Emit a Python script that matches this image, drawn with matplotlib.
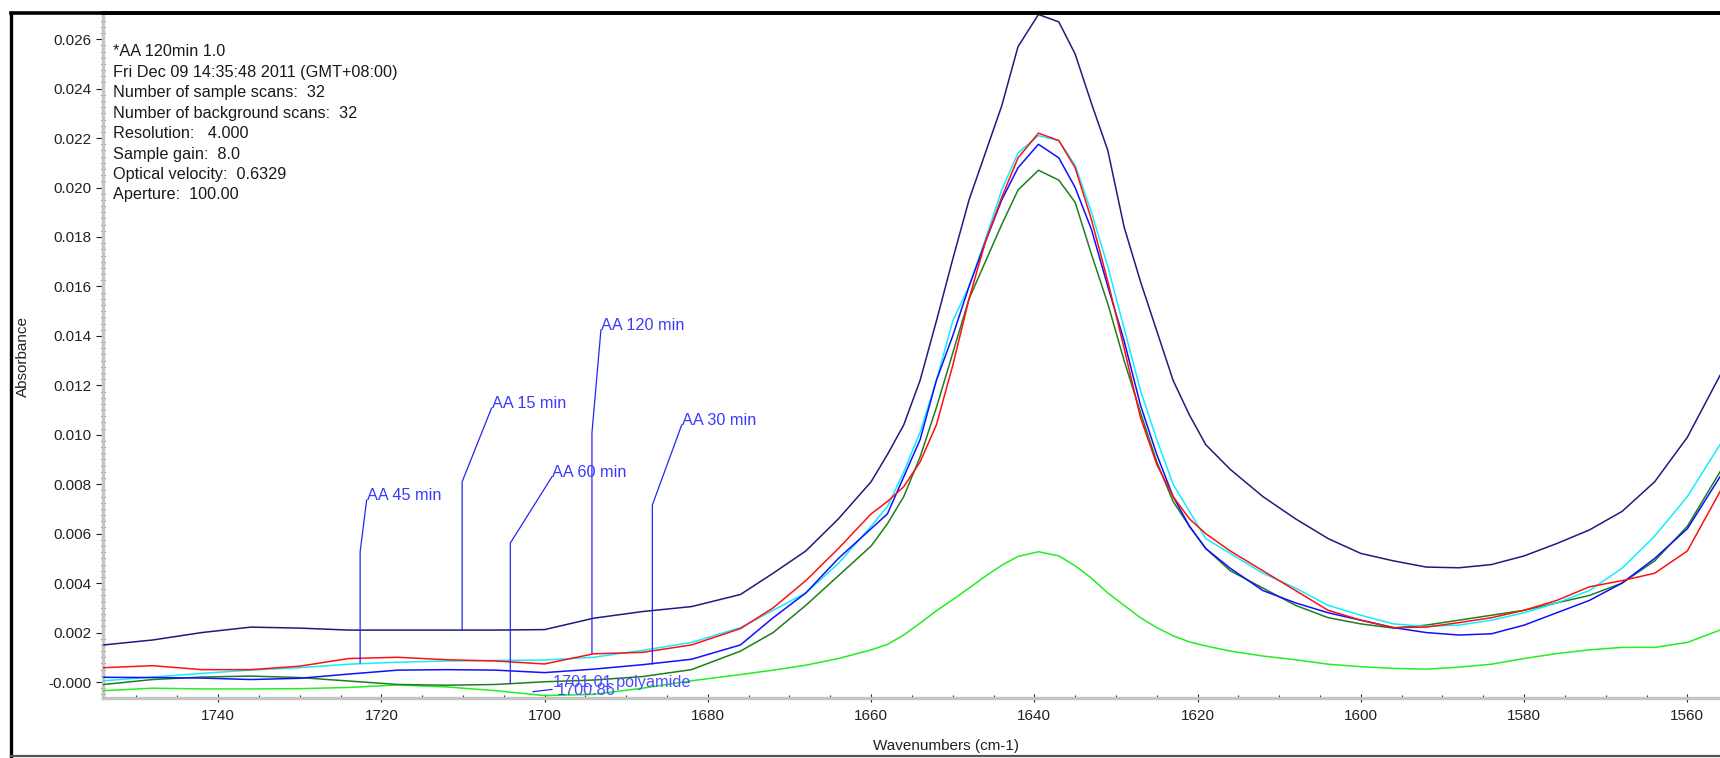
import numpy as np
import matplotlib
matplotlib.use("Agg")
import matplotlib.pyplot as plt
from matplotlib.ticker import MultipleLocator, FixedLocator
from matplotlib.lines import Line2D

plt.rcParams['font.family'] = ['Liberation Sans', 'DejaVu Sans']

# wavenumber grid (cm-1) shared by all spectra
wavenumber = [1754, 1748, 1742, 1736, 1730, 1724, 1718, 1712, 1706, 1700,
              1694, 1688, 1682, 1676, 1672, 1668, 1664, 1660, 1658, 1656,
              1654, 1652, 1650, 1648, 1646, 1644, 1642, 1639.5, 1637, 1635,
              1633, 1631, 1629, 1627, 1625, 1623, 1621, 1619, 1616, 1612,
              1608, 1604, 1600, 1596, 1592, 1588, 1584, 1580, 1576, 1572,
              1568, 1564, 1560, 1556]

aa_15 = [0.00150, 0.00170, 0.00200, 0.00222, 0.00218, 0.00210, 0.00210, 0.00210, 0.00210, 0.00212,
         0.00258, 0.00285, 0.00305, 0.00354, 0.00440, 0.00530, 0.00660, 0.00810, 0.00920, 0.01040,
         0.01220, 0.01460, 0.01710, 0.01950, 0.02140, 0.02330, 0.02570, 0.02700, 0.02670, 0.02540,
         0.02340, 0.02150, 0.01840, 0.01620, 0.01420, 0.01220, 0.01080, 0.00960, 0.00860, 0.00750,
         0.00660, 0.00580, 0.00520, 0.00490, 0.00465, 0.00462, 0.00475, 0.00510, 0.00560, 0.00615,
         0.00690, 0.00810, 0.00990, 0.01240]

aa_45 = [0.00005, 0.00020, 0.00035, 0.00048, 0.00058, 0.00072, 0.00080, 0.00085, 0.00087, 0.00089,
         0.00100, 0.00128, 0.00160, 0.00220, 0.00290, 0.00360, 0.00480, 0.00630, 0.00710, 0.00850,
         0.01010, 0.01220, 0.01460, 0.01600, 0.01790, 0.01990, 0.02140, 0.02210, 0.02190, 0.02090,
         0.01900, 0.01680, 0.01430, 0.01180, 0.00980, 0.00800, 0.00690, 0.00580, 0.00520, 0.00440,
         0.00380, 0.00310, 0.00270, 0.00235, 0.00225, 0.00230, 0.00250, 0.00280, 0.00320, 0.00370,
         0.00460, 0.00590, 0.00750, 0.00960]

aa_120 = [0.00058, 0.00066, 0.00050, 0.00050, 0.00064, 0.00095, 0.00100, 0.00090, 0.00085, 0.00073,
          0.00114, 0.00120, 0.00150, 0.00216, 0.00300, 0.00410, 0.00540, 0.00680, 0.00730, 0.00790,
          0.00890, 0.01040, 0.01280, 0.01550, 0.01780, 0.01960, 0.02120, 0.02220, 0.02190, 0.02080,
          0.01870, 0.01620, 0.01350, 0.01070, 0.00880, 0.00750, 0.00660, 0.00600, 0.00530, 0.00450,
          0.00370, 0.00290, 0.00250, 0.00220, 0.00222, 0.00240, 0.00260, 0.00290, 0.00330, 0.00385,
          0.00410, 0.00440, 0.00530, 0.00770]

aa_30 = [0.00019, 0.00018, 0.00016, 0.00010, 0.00015, 0.00032, 0.00048, 0.00050, 0.00048, 0.00038,
         0.00052, 0.00070, 0.00092, 0.00150, 0.00260, 0.00360, 0.00500, 0.00620, 0.00680, 0.00830,
         0.00980, 0.01220, 0.01400, 0.01600, 0.01780, 0.01950, 0.02080, 0.02175, 0.02120, 0.02000,
         0.01830, 0.01600, 0.01380, 0.01120, 0.00920, 0.00750, 0.00630, 0.00540, 0.00460, 0.00370,
         0.00320, 0.00280, 0.00250, 0.00220, 0.00200, 0.00190, 0.00195, 0.00230, 0.00280, 0.00330,
         0.00400, 0.00500, 0.00620, 0.00830]

aa_60 = [-0.00010, 0.00010, 0.00020, 0.00024, 0.00018, 0.00004, -0.00010, -0.00013, -0.00010, 0.00001,
         0.00008, 0.00022, 0.00050, 0.00125, 0.00200, 0.00310, 0.00430, 0.00550, 0.00640, 0.00750,
         0.00910, 0.01110, 0.01330, 0.01550, 0.01700, 0.01850, 0.01990, 0.02070, 0.02030, 0.01940,
         0.01730, 0.01530, 0.01300, 0.01090, 0.00890, 0.00730, 0.00630, 0.00540, 0.00450, 0.00380,
         0.00310, 0.00260, 0.00235, 0.00218, 0.00230, 0.00250, 0.00270, 0.00290, 0.00320, 0.00350,
         0.00400, 0.00490, 0.00630, 0.00850]

polyamide = [-0.00035, -0.00025, -0.00028, -0.00028, -0.00027, -0.00022, -0.00012, -0.00020, -0.00035, -0.00055,
             -0.00050, -0.00025, 0.00005, 0.00030, 0.00048, 0.00068, 0.00095, 0.00130, 0.00152, 0.00190,
             0.00238, 0.00288, 0.00333, 0.00380, 0.00428, 0.00472, 0.00508, 0.00527, 0.00510, 0.00470,
             0.00420, 0.00360, 0.00310, 0.00260, 0.00220, 0.00187, 0.00162, 0.00146, 0.00125, 0.00105,
             0.00090, 0.00072, 0.00062, 0.00055, 0.00052, 0.00060, 0.00072, 0.00095, 0.00115, 0.00130,
             0.00140, 0.00140, 0.00160, 0.00210]

spectra = [
    (aa_15, '#1c1c80'),
    (polyamide, '#22ee22'),
    (aa_60, '#1e7e1e'),
    (aa_45, '#10eeff'),
    (aa_30, '#1010ff'),
    (aa_120, '#ff1010'),
]

# peak labels: text, leader x, leader foot, knee, text anchor
ann_labels = ["AA 45 min", "AA 15 min", "AA 60 min", "AA 120 min", "AA 30 min"]
ann_x = [1722.6, 1710.1, 1704.2, 1694.2, 1686.8]
ann_foot = [0.00077, 0.0021, -0.00004, 0.00117, 0.00073]
ann_knee = [0.00526, 0.0081, 0.00562, 0.01007, 0.00716]
ann_tx = [1721.8, 1706.5, 1699.1, 1693.1, 1683.2]
ann_ty = [0.00736, 0.01108, 0.0083, 0.01424, 0.0104]

header = ["*AA 120min 1.0",
          "Fri Dec 09 14:35:48 2011 (GMT+08:00)",
          "Number of sample scans:  32",
          "Number of background scans:  32",
          "Resolution:   4.000",
          "Sample gain:  8.0",
          "Optical velocity:  0.6329",
          "Aperture:  100.00"]

y_ticks = [0.0, 0.002, 0.004, 0.006, 0.008, 0.010, 0.012, 0.014,
           0.016, 0.018, 0.020, 0.022, 0.024, 0.026]
y_ticklabels = ["-0.000", "0.002", "0.004", "0.006", "0.008", "0.010", "0.012",
                "0.014", "0.016", "0.018", "0.020", "0.022", "0.024", "0.026"]
x_ticks = [1740, 1720, 1700, 1680, 1660, 1640, 1620, 1600, 1580, 1560]

W, H = 1720, 758
fig = plt.figure(figsize=(W / 100, H / 100), dpi=100)
ax = fig.add_axes([103 / W, 1 - 698 / H, 1 - 103 / W, (698 - 13) / H])

for ys, col in spectra:
    ax.plot(wavenumber, ys, color=col, lw=1.1, zorder=3)

ann_col = '#2626f0'
for lab, x, y0, yk, tx, ty in zip(ann_labels, ann_x, ann_foot, ann_knee, ann_tx, ann_ty):
    ax.plot([x, x, tx], [y0, yk, ty], color=ann_col, lw=0.9, zorder=4)
    ax.text(tx, ty, lab, color='#3a3aff', fontsize=11.7, ha='left', va='baseline', zorder=5)

ax.plot([1701.4, 1699.1], [-0.00039, -0.0003], color=ann_col, lw=0.9, zorder=4, clip_on=False)
ax.text(1699.0, -0.00004, "1701.01 polyamide", color='#4a4aff', fontsize=11.7,
        ha='left', va='center', zorder=5, clip_on=False)
ax.text(1698.5, -0.00036, "1700.86", color='#4a4aff', fontsize=11.7,
        ha='left', va='center', zorder=5, clip_on=False)

ax.set_xlim(1754.1, 1556.0)
ax.set_ylim(-0.000647, 0.02706)

ax.yaxis.set_major_locator(FixedLocator(y_ticks))
ax.set_yticklabels(y_ticklabels)
ax.yaxis.set_minor_locator(MultipleLocator(0.00025))
ax.xaxis.set_major_locator(FixedLocator(x_ticks))
ax.set_xticklabels([str(t) for t in x_ticks])
ax.xaxis.set_minor_locator(MultipleLocator(5))

for side in ('left', 'bottom'):
    ax.spines[side].set_color('#c4c4c4')
    ax.spines[side].set_linewidth(2.4)
ax.spines['right'].set_visible(False)
ax.spines['top'].set_color('black')
ax.spines['top'].set_linewidth(2.6)

ax.tick_params(axis='y', which='major', direction='out', length=5, width=0.8,
               color='#222222', labelsize=11, labelcolor='#222222', pad=3)
ax.tick_params(axis='y', which='minor', direction='inout', length=3, width=0.8, color='#222222')
ax.tick_params(axis='x', which='major', direction='inout', length=6, width=0.8,
               color='#222222', labelsize=11, labelcolor='#222222', pad=5)
ax.tick_params(axis='x', which='minor', direction='in', length=2.5, width=0.8, color='#222222')

for i, line in enumerate(header):
    fig.text(113 / W, 1 - (52 + i * 20.4) / H, line, fontsize=11.7, color='#1a1a1a',
             ha='left', va='center')

fig.text(23 / W, 1 - 357 / H, "Absorbance", rotation=90, fontsize=11, color='#222222',
         ha='center', va='center')
fig.text(946 / W, 1 - 746 / H, "Wavenumbers (cm-1)", fontsize=11, color='#222222',
         ha='center', va='center')

# outer window frame
fig.add_artist(Line2D([11 / W, 11 / W], [1 - 13 / H, 1 - 756 / H], color='black', lw=2.4,
                      transform=fig.transFigure))
fig.add_artist(Line2D([11 / W, 1.0], [1 - 13 / H, 1 - 13 / H], color='black', lw=2.6,
                      transform=fig.transFigure))
fig.add_artist(Line2D([11 / W, 1.0], [1 - 756 / H, 1 - 756 / H], color='#555555', lw=1.6,
                      transform=fig.transFigure))

fig.savefig("out.png", dpi=100)
